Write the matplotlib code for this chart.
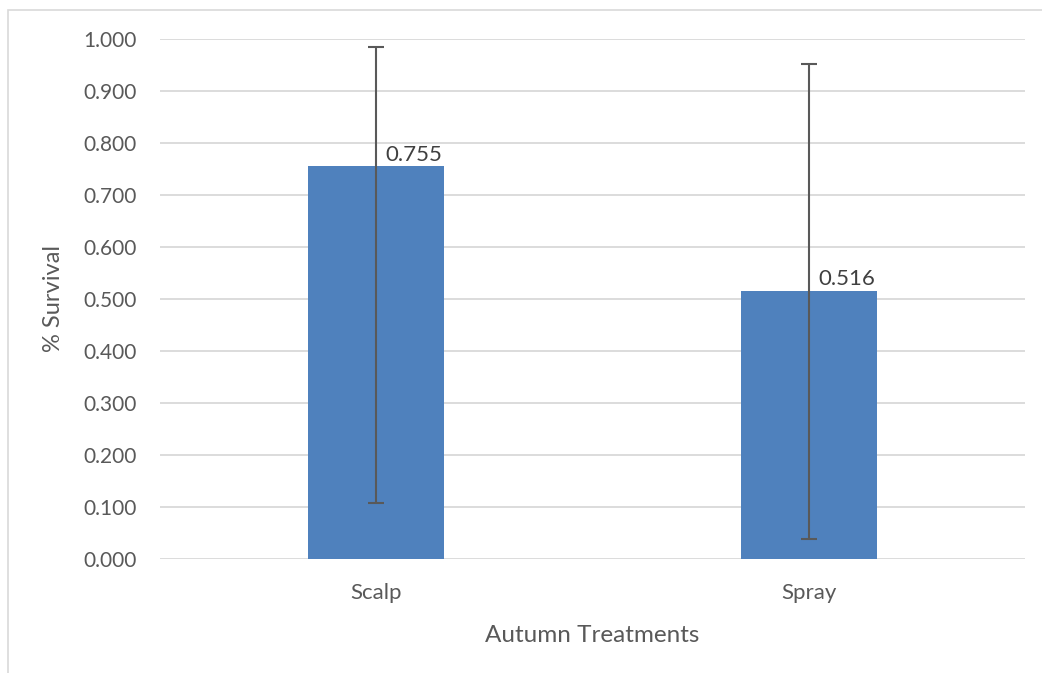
import matplotlib.pyplot as plt
import matplotlib.patches as mpatches
import numpy as np

plt.rcParams['font.family'] = ['Lato', 'DejaVu Sans']

kategori = ['Scalp', 'Spray']
survival = [0.755, 0.516]
err_atas = [0.984, 0.952]
err_bawah = [0.108, 0.038]

warna_bar = '#4F81BD'
warna_teks = '#595959'

fig = plt.figure(figsize=(10.42, 6.73), dpi=100)
ax = fig.add_axes([160 / 1042, 114 / 673, 865 / 1042, 520 / 673])

x = np.arange(len(kategori))
nilai = np.array(survival)
yerr = [nilai - np.array(err_bawah), np.array(err_atas) - nilai]

ax.bar(x, nilai, width=0.315, color=warna_bar, zorder=2)
ax.errorbar(x, nilai, yerr=yerr, fmt='none', ecolor='#595959',
            elinewidth=1.5, capsize=6, capthick=1.5, zorder=3)

for xi, v in zip(x, nilai):
    ax.text(xi + 0.022, v + 0.003, f'{v:.3f}', ha='left', va='bottom',
            fontsize=16, color='#404040')

ax.set_xlim(-0.5, 1.5)
ax.set_ylim(0, 1.0)
ax.set_yticks(np.arange(0, 1.01, 0.1))
ax.set_yticklabels([f'{t:.3f}' for t in np.arange(0, 1.01, 0.1)])
ax.set_xticks(x)
ax.set_xticklabels(kategori)
ax.tick_params(axis='both', length=0, labelcolor=warna_teks)
ax.tick_params(axis='y', pad=17, labelsize=15)
ax.tick_params(axis='x', pad=17, labelsize=16)

ax.grid(axis='y', color='#D9D9D9', linewidth=1.3, zorder=0)
ax.set_axisbelow(True)
for s in ax.spines.values():
    s.set_visible(False)

ax.set_ylabel('% Survival', fontsize=17, color=warna_teks, labelpad=14)
ax.set_xlabel('Autumn Treatments', fontsize=17.5, color=warna_teks, labelpad=16)

# bingkai area chart (terpotong di kanan dan bawah)
bingkai = mpatches.Rectangle((8 / 1042, -0.05), 1.2, 1 - 10 / 673 + 0.05,
                             transform=fig.transFigure, fill=False,
                             edgecolor='#D9D9D9', linewidth=1.2)
fig.patches.append(bingkai)

plt.savefig('out.png', dpi=100)
plt.close(fig)
